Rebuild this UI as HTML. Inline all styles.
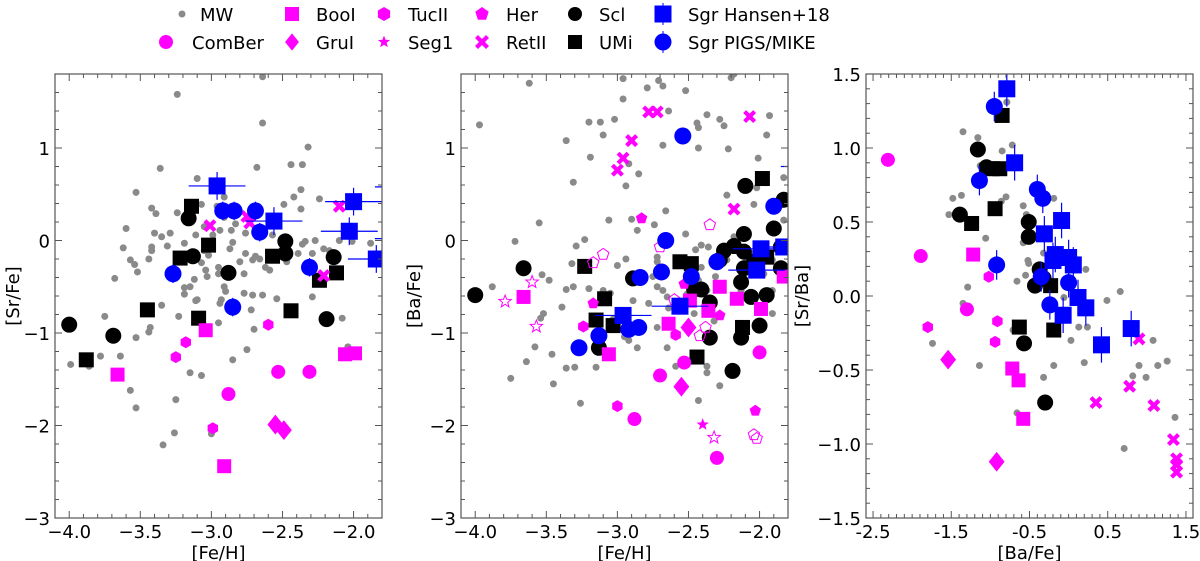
<!DOCTYPE html>
<html><head><meta charset="utf-8"><style>
html,body{margin:0;padding:0;background:#fff;}
svg{display:block;font-family:"DejaVu Sans","Liberation Sans",sans-serif;}
</style></head><body>
<svg id="fig" width="1200" height="561" viewBox="0 0 1200 561" xmlns="http://www.w3.org/2000/svg"></svg>
<script>
// ---------- DATA ----------
const p1MW=[[-3.24,1.58],[-2.64,1.77],[-2.64,1.27],[-2.32,1.01],[-3.36,0.78],[-2.68,0.79],[-2.44,0.82],[-2.36,0.82],[-3.10,0.67],[-3.53,0.52],[-2.37,0.55],[-2.42,0.47],[-2.24,0.45],[-2.49,0.39],[-2.37,0.34],[-3.42,0.35],[-3.39,0.29],[-3.24,0.30],[-3.60,0.13],[-3.40,0.08],[-3.29,0.08],[-3.35,0.04],[-3.07,0.39],[-2.91,0.47],[-2.96,0.37],[-2.91,0.25],[-2.86,0.11],[-3.11,0.06],[-3.05,0.15],[-2.99,0.06],[-2.94,0.11],[-2.85,-0.02],[-2.87,-0.09],[-3.19,-0.03],[-3.31,-0.06],[-3.42,-0.07],[-3.42,-0.11],[-3.62,-0.08],[-3.57,-0.21],[-3.54,-0.26],[-3.52,-0.34],[-3.44,-0.20],[-3.68,-0.41],[-3.20,-0.18],[-3.07,-0.24],[-3.04,-0.32],[-3.03,-0.39],[-3.12,-0.42],[-3.19,-0.51],[-3.15,-0.50],[-3.19,-0.58],[-3.10,-0.64],[-2.95,-0.29],[-2.95,-0.36],[-2.91,-0.50],[-2.93,-0.64],[-2.94,-0.68],[-2.90,-0.55],[-2.80,-0.23],[-2.77,-0.36],[-2.77,-0.57],[-2.71,-0.59],[-2.64,-0.59],[-2.72,-0.75],[-2.76,-0.14],[-2.69,-0.17],[-2.62,-0.29],[-2.59,-0.32],[-2.54,-0.63],[-2.70,-0.96],[-2.75,-1.18],[-2.85,-1.29],[-2.95,-0.89],[-3.15,-1.43],[-3.07,-1.46],[-3.23,-0.82],[-3.11,-0.65],[-3.35,-0.70],[-3.43,-0.94],[-3.44,-0.99],[-3.53,-1.05],[-3.75,-0.82],[-3.78,-1.25],[-3.64,-1.25],[-3.86,-1.36],[-3.99,-1.34],[-3.57,-1.62],[-3.53,-1.81],[-3.25,-1.72],[-3.26,-2.08],[-3.34,-2.21],[-3.00,-2.09],[-2.27,0.00],[-2.34,-0.01],[-2.36,-0.04],[-2.21,-0.09],[-2.29,-0.14],[-2.29,-0.61],[-2.08,-0.84],[-2.04,-1.15],[-2.10,0.00],[-2.01,-0.01],[-1.88,-0.03],[-2.17,-0.11],[-2.39,-0.14],[-2.47,-0.23],[-2.47,-0.07],[-2.57,0.06],[-2.68,0.04],[-2.76,0.08],[-2.83,0.18],[-2.71,-0.21],[-2.66,-0.20],[-3.04,-0.03],[-3.05,-0.11],[-3.02,-0.16]];
const p1Scl=[[-4.0,-0.91],[-3.69,-1.03],[-3.16,0.24],[-3.13,-0.17],[-2.88,-0.35],[-2.48,-0.01],[-2.48,-0.14],[-2.14,-0.18],[-2.19,-0.85]];
const p1UMi=[[-3.14,0.37],[-3.02,-0.05],[-3.22,-0.19],[-3.45,-0.75],[-3.09,-0.84],[-3.88,-1.29],[-2.57,-0.17],[-2.44,-0.76],[-2.24,-0.43],[-2.12,-0.35]];
const p1PIGS=[[-3.27,-0.36],[-2.92,0.32],[-2.84,0.32],[-2.69,0.32],[-2.66,0.09],[-2.85,-0.72],[-2.31,-0.29]];
const p1Hansen=[[-2.96,0.59],[-2.56,0.21],[-2.0,0.42],[-2.03,0.10],[-1.84,-0.2],[-1.65,0.58],[-1.65,0.02]];
const p1BooI=[[-3.66,-1.45],[-3.04,-0.97],[-2.91,-2.44],[-2.06,-1.23],[-1.99,-1.22]];
const p1ComBer=[[-2.88,-1.66],[-2.53,-1.42],[-2.31,-1.42]];
const p1TucII=[[-3.25,-1.26],[-3.18,-1.10],[-2.60,-0.91],[-2.99,-2.03]];
const p1GruI=[[-2.55,-1.99],[-2.49,-2.05]];
const p1RetII=[[-3.01,0.16],[-2.75,0.26],[-2.73,0.19],[-2.10,0.37],[-2.21,-0.38]];

const p2MW=[[-3.62,1.70],[-3.97,1.25],[-2.96,1.75],[-2.96,1.53],[-2.79,1.65],[-2.71,1.73],[-2.68,1.67],[-2.52,1.62],[-2.18,1.80],[-2.20,1.76],[-2.37,1.36],[-2.64,1.40],[-2.28,1.31],[-2.25,1.24],[-1.93,1.35],[-1.95,1.14],[-2.44,1.27],[-2.43,1.22],[-2.43,1.00],[-2.22,0.99],[-2.68,1.03],[-2.01,0.89],[-3.20,1.28],[-3.12,1.28],[-3.10,1.14],[-3.02,1.31],[-3.36,1.08],[-3.19,0.90],[-3.31,0.63],[-2.94,0.59],[-2.85,0.72],[-2.92,0.83],[-2.23,0.49],[-2.04,0.39],[-2.02,0.57],[-1.83,0.68],[-2.66,0.32],[-3.06,0.22],[-2.90,0.23],[-2.86,0.11],[-2.74,0.17],[-3.55,0.19],[-3.72,-0.01],[-3.29,-0.06],[-3.23,0.01],[-3.32,-0.25],[-3.88,-0.50],[-3.53,-0.37],[-3.48,-0.43],[-3.39,-0.72],[-3.36,-0.53],[-3.31,-0.50],[-3.20,-0.52],[-3.10,-0.54],[-3.05,-0.57],[-3.00,-0.27],[-2.94,-0.20],[-2.89,-0.65],[-3.03,-0.85],[-3.15,-0.87],[-2.95,-1.04],[-2.86,-1.16],[-2.92,-1.08],[-3.54,-0.84],[-3.52,-0.79],[-3.58,-1.15],[-3.64,-1.31],[-3.75,-1.49],[-3.46,-1.23],[-3.45,-1.55],[-3.36,-1.38],[-3.30,-1.37],[-3.15,-1.37],[-3.26,-1.76],[-2.72,-0.18],[-2.72,-0.23],[-2.69,-0.32],[-2.75,-0.39],[-2.72,-0.50],[-2.68,-0.54],[-2.65,-0.61],[-2.78,-0.68],[-2.64,-0.73],[-2.65,-1.16],[-2.72,-0.94],[-2.52,0.07],[-2.45,-0.10],[-2.41,-0.05],[-2.36,-0.07],[-2.41,-0.29],[-2.43,-0.43],[-2.37,-0.54],[-2.51,-0.58],[-2.58,-0.68],[-2.46,-0.79],[-2.32,-0.87],[-2.37,-1.36],[-2.37,-1.43],[-2.28,-1.57],[-2.43,-1.73],[-2.59,-1.36],[-2.18,0.04],[-2.04,-0.14],[-1.91,-0.21],[-1.83,0.22],[-1.91,-0.54],[-1.91,-0.79],[-2.23,-0.21],[-2.31,-0.39],[-2.13,-0.54],[-2.09,-0.21],[-1.97,-0.36]];
const p2Scl=[[-4.0,-0.59],[-3.66,-0.30],[-3.13,-1.16],[-2.89,-0.41],[-2.46,-0.53],[-2.41,-0.53],[-2.35,-0.67],[-2.35,-1.05],[-2.19,-1.41],[-2.10,0.59],[-2.11,0.07],[-2.18,-0.06],[-2.25,-0.11],[-2.28,-0.21],[-2.11,-0.12],[-2.04,-0.23],[-2.11,-0.30],[-2.13,-0.45],[-2.06,-0.61],[-1.95,-0.59],[-2.0,-0.92],[-2.13,-1.05],[-1.90,0.13],[-1.83,0.44],[-1.85,-0.07],[-1.85,-0.30]];
const p2UMi=[[-3.23,-0.28],[-3.09,-0.63],[-3.15,-0.86],[-3.03,-0.92],[-2.56,-0.23],[-2.48,-0.25],[-2.44,-1.26],[-1.98,0.67],[-2.12,-0.94],[-1.95,-0.18]];
const p2PIGS=[[-2.54,1.13],[-3.27,-1.16],[-3.13,-1.03],[-2.92,-0.96],[-2.85,-0.94],[-2.84,-0.40],[-2.66,0.0],[-2.69,-0.34],[-2.48,-0.39],[-2.30,-0.23],[-1.90,0.37]];
const p2Hansen=[[-2.96,-0.81],[-2.56,-0.71],[-1.99,-0.09],[-2.02,-0.32],[-1.83,-0.07],[-1.65,0.80]];
const p2BooI=[[-3.66,-0.61],[-3.06,-1.23],[-2.64,-0.90],[-2.28,-0.50],[-2.16,-0.63],[-1.99,-0.74],[-2.49,-0.65],[-2.36,-0.76],[-1.83,-0.39]];
const p2ComBer=[[-2.88,-1.93],[-2.70,-1.46],[-2.53,-1.32],[-2.30,-2.35],[-2.0,-1.21]];
const p2TucII=[[-3.0,-1.79],[-3.24,-0.93],[-2.59,-1.02]];
const p2GruI=[[-2.55,-1.58],[-2.50,-0.94]];
const p2Her=[[-2.83,0.24],[-3.17,-0.68],[-2.03,-1.84],[-2.28,-0.81],[-2.53,-0.47]];
const p2HerOpen=[[-3.10,-0.15],[-3.17,-0.24],[-2.35,0.17],[-2.38,-0.94],[-2.42,-1.03],[-2.04,-2.10],[-2.02,-2.14],[-2.70,-0.07],[-2.60,-0.64]];
const p2Seg1=[[-2.40,-1.99]];
const p2Seg1Open=[[-3.79,-0.66],[-3.60,-0.45],[-3.57,-0.93],[-2.32,-2.13]];
const p2RetII=[[-3.0,0.76],[-2.96,0.89],[-2.90,1.08],[-2.78,1.39],[-2.72,1.39],[-2.07,1.34],[-2.18,0.34]];

const p3MW=[[-1.35,1.11],[-1.16,1.07],[-0.72,1.02],[-0.85,0.98],[-0.79,1.31],[-1.48,0.66],[-1.37,0.68],[-1.53,0.55],[-0.80,0.67],[-0.86,0.64],[-1.13,0.88],[-0.58,0.61],[-0.54,0.55],[-0.19,0.66],[-1.06,0.39],[-0.58,0.36],[-0.52,0.24],[-0.51,0.22],[-0.55,0.14],[-0.66,0.10],[-1.29,0.06],[-0.32,0.29],[-0.06,-0.01],[0.22,0.18],[0.49,-0.03],[0.66,0.03],[0.13,-0.21],[0.24,-0.21],[0.03,-0.30],[0.20,-0.45],[-0.19,-0.47],[-0.32,-0.55],[-0.71,-0.23],[-0.66,-0.79],[-1.14,-0.47],[-1.74,-0.32],[-1.35,-0.05],[0.82,-0.54],[0.90,-0.47],[0.99,-0.55],[1.08,-0.30],[1.14,-0.47],[1.26,-0.44],[1.36,-0.82],[0.71,-1.03]];
const p3Scl=[[-1.16,0.99],[-1.39,0.55],[-0.51,0.50],[-0.51,0.40],[-0.37,0.18],[-0.43,0.07],[-0.57,-0.32],[-0.30,-0.72],[-0.32,0.12],[-1.05,0.87]];
const p3UMi=[[-0.85,1.22],[-0.94,0.59],[-1.24,0.49],[-0.98,0.86],[-0.88,0.86],[-0.63,-0.21],[-0.19,-0.23],[-0.23,0.07]];
const p3PIGS=[[-0.95,1.28],[-1.14,0.78],[-0.40,0.72],[-0.33,0.66],[-0.92,0.21],[-0.35,0.13],[0.0,0.09],[-0.24,-0.06]];
const p3Hansen=[[-0.79,1.40],[-0.69,0.90],[-0.09,0.51],[-0.31,0.42],[-0.17,0.28],[-0.20,0.24],[0.0,0.26],[0.06,0.21],[0.12,-0.01],[0.22,-0.08],[-0.07,-0.13],[0.42,-0.33],[0.80,-0.22]];
const p3BooI=[[-1.22,0.28],[-0.72,-0.49],[-0.64,-0.57],[-0.58,-0.83]];
const p3ComBer=[[-2.31,0.92],[-1.89,0.27],[-1.30,-0.09]];
const p3TucII=[[-1.80,-0.21],[-1.02,0.13],[-0.91,-0.17],[-0.94,-0.31]];
const p3GruI=[[-1.54,-0.43],[-0.92,-1.12]];
const p3RetII=[[0.35,-0.72],[0.78,-0.61],[1.09,-0.74],[0.90,-0.29],[1.34,-0.97],[1.38,-1.10],[1.38,-1.14],[1.38,-1.19]];

const xTicks12=[-4.0,-3.5,-3.0,-2.5,-2.0];
const xTickLabels12=["\u22124.0","\u22123.5","\u22123.0","\u22122.5","\u22122.0"];
const yTicks12=[-3,-2,-1,0,1];
const yTickLabels12=["\u22123","\u22122","\u22121","0","1"];
const xTicks3=[-2.5,-1.5,-0.5,0.5,1.5];
const xTickLabels3=["-2.5","-1.5","-0.5","0.5","1.5"];
const yTicks3=[-1.5,-1.0,-0.5,0.0,0.5,1.0,1.5];
const yTickLabels3=["\u22121.5","\u22121.0","\u22120.5","0.0","0.5","1.0","1.5"];

// ---------- DRAW ----------
const NS="http://www.w3.org/2000/svg";
const svg=document.getElementById('fig');
function mk(tag,attrs,parent){const e=document.createElementNS(NS,tag);for(const k in attrs)e.setAttribute(k,attrs[k]);(parent||svg).appendChild(e);return e;}
const MAG="#ff00ff",BLU="#0000ff",GRY="#8a8a8a";

function marker(g,shape,cx,cy,s,fill,open){
  let e;const st=open?{fill:"none",stroke:fill,"stroke-width":1}:{fill:fill};
  if(shape==="circle"){e=mk('circle',Object.assign({cx:cx,cy:cy,r:s/2},st),g);}
  else if(shape==="square"){e=mk('rect',Object.assign({x:cx-s/2,y:cy-s/2,width:s,height:s},st),g);}
  else if(shape==="diamond"){const h=s*0.62;e=mk('polygon',Object.assign({points:`${cx},${cy-h} ${cx+h*0.8},${cy} ${cx},${cy+h} ${cx-h*0.8},${cy}`},st),g);}
  else if(shape==="hex"||shape==="pent"||shape==="star"){
    let pts=[];const n=shape==="hex"?6:5;const r=s/2;
    if(shape==="star"){for(let i=0;i<10;i++){const a=-Math.PI/2+i*Math.PI/5;const rr=i%2?r*0.42:r;pts.push((cx+rr*Math.cos(a)).toFixed(1)+","+(cy+rr*Math.sin(a)).toFixed(1));}}
    else{for(let i=0;i<n;i++){const a=-Math.PI/2+i*2*Math.PI/n;pts.push((cx+r*Math.cos(a)).toFixed(1)+","+(cy+r*Math.sin(a)).toFixed(1));}}
    e=mk('polygon',Object.assign({points:pts.join(" ")},st),g);}
  else if(shape==="x"){const h=s/2-1.5;e=mk('path',{d:`M${cx-h},${cy-h}L${cx+h},${cy+h}M${cx-h},${cy+h}L${cx+h},${cy-h}`,stroke:fill,"stroke-width":4.2,fill:"none"},g);}
  return e;
}

function panel(id,L,R,T,B,xmin,xmax,ymin,ymax,opt){
  const sx=v=>L+(v-xmin)/(xmax-xmin)*(R-L);
  const sy=v=>B-(v-ymin)/(ymax-ymin)*(B-T);
  const g=mk('g',{});
  
  
  const cp=mk('clipPath',{id:id+'-clip'},g);mk('rect',{x:L,y:T,width:R-L,height:B-T},cp);
  const plot=mk('g',{'clip-path':`url(#${id}-clip)`},g);
  
  
  function series(name,data,shape,size,color,open,err){
    const sg=mk('g',{},plot);
    
    
    data.forEach(d=>{
      const cx=sx(d[0]),cy=sy(d[1]);
      if(err){const ex=err[0]*(R-L)/(xmax-xmin),ey=err[1]*(B-T)/(ymax-ymin);
        if(ex)mk('line',{x1:cx-ex,x2:cx+ex,y1:cy,y2:cy,stroke:BLU,"stroke-width":1.2},sg);
        if(ey)mk('line',{x1:cx,x2:cx,y1:cy-ey,y2:cy+ey,stroke:BLU,"stroke-width":1.2},sg);}
      const m=marker(sg,shape,cx,cy,size,color,open);
      
      
    });
  }
  opt.series.forEach(s=>series(s[0],s[1],s[2],s[3],s[4],s[5],s[6]));
  // frame
  const fr=mk('rect',{x:L,y:T,width:R-L,height:B-T,fill:"none",stroke:"#555","stroke-width":1.2},g);
  
  
  // ticks
  const tg=mk('g',{stroke:"#555","stroke-width":1},g);
  for(let v=opt.xminor[0];v<=xmax+1e-9;v+=opt.xminor[1]){if(v<xmin-1e-9)continue;const x=sx(v);const maj=opt.xt.some(t=>Math.abs(t-v)<1e-6);const l=maj?7:4;
    mk('line',{x1:x,x2:x,y1:B,y2:B-l},tg);mk('line',{x1:x,x2:x,y1:T,y2:T+l},tg);}
  for(let v=opt.yminor[0];v<=ymax+1e-9;v+=opt.yminor[1]){if(v<ymin-1e-9)continue;const y=sy(v);const maj=opt.yt.some(t=>Math.abs(t-v)<1e-6);const l=maj?7:4;
    mk('line',{x1:L,x2:L+l,y1:y,y2:y},tg);mk('line',{x1:R,x2:R-l,y1:y,y2:y},tg);}
  opt.xt.forEach((t,i)=>{const e=mk('text',{x:sx(t),y:B+20,"text-anchor":"middle","font-size":18},g);e.textContent=opt.xl[i];
    });
  opt.yt.forEach((t,i)=>{const e=mk('text',{x:L-5,y:sy(t)+7,"text-anchor":"end","font-size":18},g);e.textContent=opt.yl[i];
    });
  const xt=mk('text',{x:(L+R)/2,y:B+41,"text-anchor":"middle","font-size":18},g);xt.textContent=opt.xtitle;
  
  const yx=opt.ytx,yy=(T+B)/2;
  const yt=mk('text',{x:yx,y:yy,"text-anchor":"middle","font-size":18,transform:`rotate(-90 ${yx} ${yy})`},g);yt.textContent=opt.ytitle;
  
}

const BIG=16,SQ=17,MS=14;
panel('panel-sr-fe',55,382,74,518,-4.1,-1.8,-3,1.8,{xt:xTicks12,xl:xTickLabels12,yt:yTicks12,yl:yTickLabels12,xminor:[-4.1,0.1],yminor:[-3,0.2],xtitle:"[Fe/H]",ytitle:"[Sr/Fe]",ytx:19,
 series:[["mw-points",p1MW,"circle",7,GRY],["scl-points",p1Scl,"circle",BIG,"#000"],["umi-points",p1UMi,"square",MS+1,"#000"],
 ["booi-points",p1BooI,"square",MS,MAG],["comber-points",p1ComBer,"circle",MS,MAG],["tucii-points",p1TucII,"hex",12,MAG],["grui-points",p1GruI,"diamond",MS+2,MAG],["retii-points",p1RetII,"x",13,MAG],
 ["sgr-hansen-points",p1Hansen,"square",SQ,BLU,false,[0.2,0.15]],["sgr-pigs-points",p1PIGS,"circle",BIG+1,BLU,false,[0,0.1]]]});
panel('panel-ba-fe',461,788,74,518,-4.1,-1.8,-3,1.8,{xt:xTicks12,xl:xTickLabels12,yt:yTicks12,yl:yTickLabels12,xminor:[-4.1,0.1],yminor:[-3,0.2],xtitle:"[Fe/H]",ytitle:"[Ba/Fe]",ytx:420,
 series:[["mw-points",p2MW,"circle",7,GRY],["scl-points",p2Scl,"circle",BIG,"#000"],["umi-points",p2UMi,"square",MS+1,"#000"],
 ["booi-points",p2BooI,"square",MS,MAG],["comber-points",p2ComBer,"circle",MS,MAG],["tucii-points",p2TucII,"hex",12,MAG],["grui-points",p2GruI,"diamond",MS+2,MAG],
 ["her-points",p2Her,"pent",12,MAG],["her-open-points",p2HerOpen,"pent",12,MAG,true],["seg1-points",p2Seg1,"star",13,MAG],["seg1-open-points",p2Seg1Open,"star",13,MAG,true],["retii-points",p2RetII,"x",13,MAG],
 ["sgr-hansen-points",p2Hansen,"square",SQ,BLU,false,[0.2,0]],["sgr-pigs-points",p2PIGS,"circle",BIG+1,BLU]]});
panel('panel-sr-ba',866,1193,74,518,-2.59,1.59,-1.5,1.5,{xt:xTicks3,xl:xTickLabels3,yt:yTicks3,yl:yTickLabels3,xminor:[-2.5,0.1],yminor:[-1.5,0.1],xtitle:"[Ba/Fe]",ytitle:"[Sr/Ba]",ytx:808,
 series:[["mw-points",p3MW,"circle",7,GRY],["scl-points",p3Scl,"circle",BIG,"#000"],["umi-points",p3UMi,"square",MS+1,"#000"],
 ["booi-points",p3BooI,"square",MS,MAG],["comber-points",p3ComBer,"circle",MS,MAG],["tucii-points",p3TucII,"hex",12,MAG],["grui-points",p3GruI,"diamond",MS+2,MAG],["retii-points",p3RetII,"x",13,MAG],
 ["sgr-hansen-points",p3Hansen,"square",SQ,BLU,false,[0,0.12]],["sgr-pigs-points",p3PIGS,"circle",BIG+1,BLU,false,[0,0.1]]]});

// legend
const legendNames=["MW","ComBer","BooI","GruI","TucII","Seg1","Her","RetII","Scl","UMi","Sgr Hansen+18","Sgr PIGS/MIKE"];
const legendShapes=["circle","circle","square","diamond","hex","star","pent","x","circle","square","square","circle"];
const lg=mk('g',{});


const lmx=[182,166,292,292,384,384,482,482,575,575,663,663];
const ltx=[200,192,316,316,408,408,506,506,599,599,688,688];
legendNames.forEach((n,i)=>{
  const y=i%2?42:14;
  const col=i<2?(i===0?GRY:MAG):(i<8?MAG:(i<10?"#000":BLU));
  const sz=i===0?7:(i>=10?17:(i===5?13:14));
  const eg=mk('g',{},lg);
  
  
  if(i>=10){mk('line',{x1:lmx[i],x2:lmx[i],y1:y-11,y2:y+11,stroke:BLU,"stroke-width":1},eg);}
  marker(eg,legendShapes[i],lmx[i],y,sz,col,false);
  const t=mk('text',{x:ltx[i],y:y+7,"font-size":18},eg);t.textContent=n;
});
</script>
</body></html>
